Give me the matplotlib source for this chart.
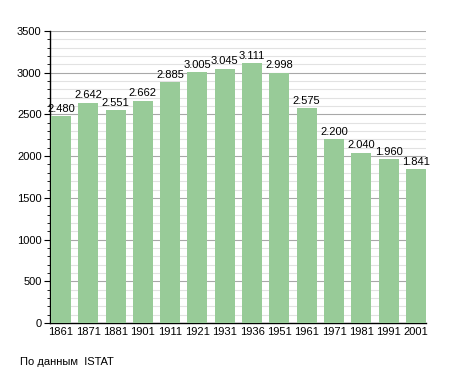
import matplotlib
matplotlib.use("Agg")
import matplotlib.pyplot as plt
from matplotlib.ticker import MultipleLocator

years = ["1861", "1871", "1881", "1901", "1911", "1921", "1931", "1936",
         "1951", "1961", "1971", "1981", "1991", "2001"]
population = [2480, 2642, 2551, 2662, 2885, 3005, 3045, 3111, 2998, 2575,
              2200, 2040, 1960, 1841]
source_note = "По данным  ISTAT"

plt.rcParams['font.family'] = ['Liberation Sans', 'DejaVu Sans']

fig = plt.figure(figsize=(4.55, 3.73), dpi=100)
ax = fig.add_axes([50/455, 1-323/373, (426-50)/455, (323-31)/373])

x = list(range(len(years)))
ax.bar(x, population, width=0.73, color="#98cb98", zorder=3)

for xi, v in zip(x, population):
    label = f"{v:,}".replace(",", ".")
    ax.text(xi, v + 30, label, ha="center", va="bottom", fontsize=8, zorder=4)

ax.set_xlim(-0.40, 13.37)
ax.set_ylim(0, 3500)
ax.yaxis.set_major_locator(MultipleLocator(500))
ax.yaxis.set_minor_locator(MultipleLocator(100))
ax.grid(axis="y", which="major", color="#a8a8a8", linewidth=0.8, zorder=1)
ax.grid(axis="y", which="minor", color="#e2e2e2", linewidth=0.8, zorder=0)
ax.set_xticks(x)
ax.set_xticklabels(years)
ax.tick_params(axis="x", length=0, labelsize=8, pad=3)
ax.tick_params(axis="y", which="major", length=4, labelsize=8, pad=2)
ax.tick_params(axis="y", which="minor", length=2)
ax.spines["top"].set_visible(False)
ax.spines["right"].set_visible(False)
ax.spines["left"].set_linewidth(1.0)
ax.spines["bottom"].set_linewidth(1.0)

fig.text(20/455, 1-362/373, source_note, fontsize=8, va="center", ha="left")

fig.savefig("out.png", dpi=100)
